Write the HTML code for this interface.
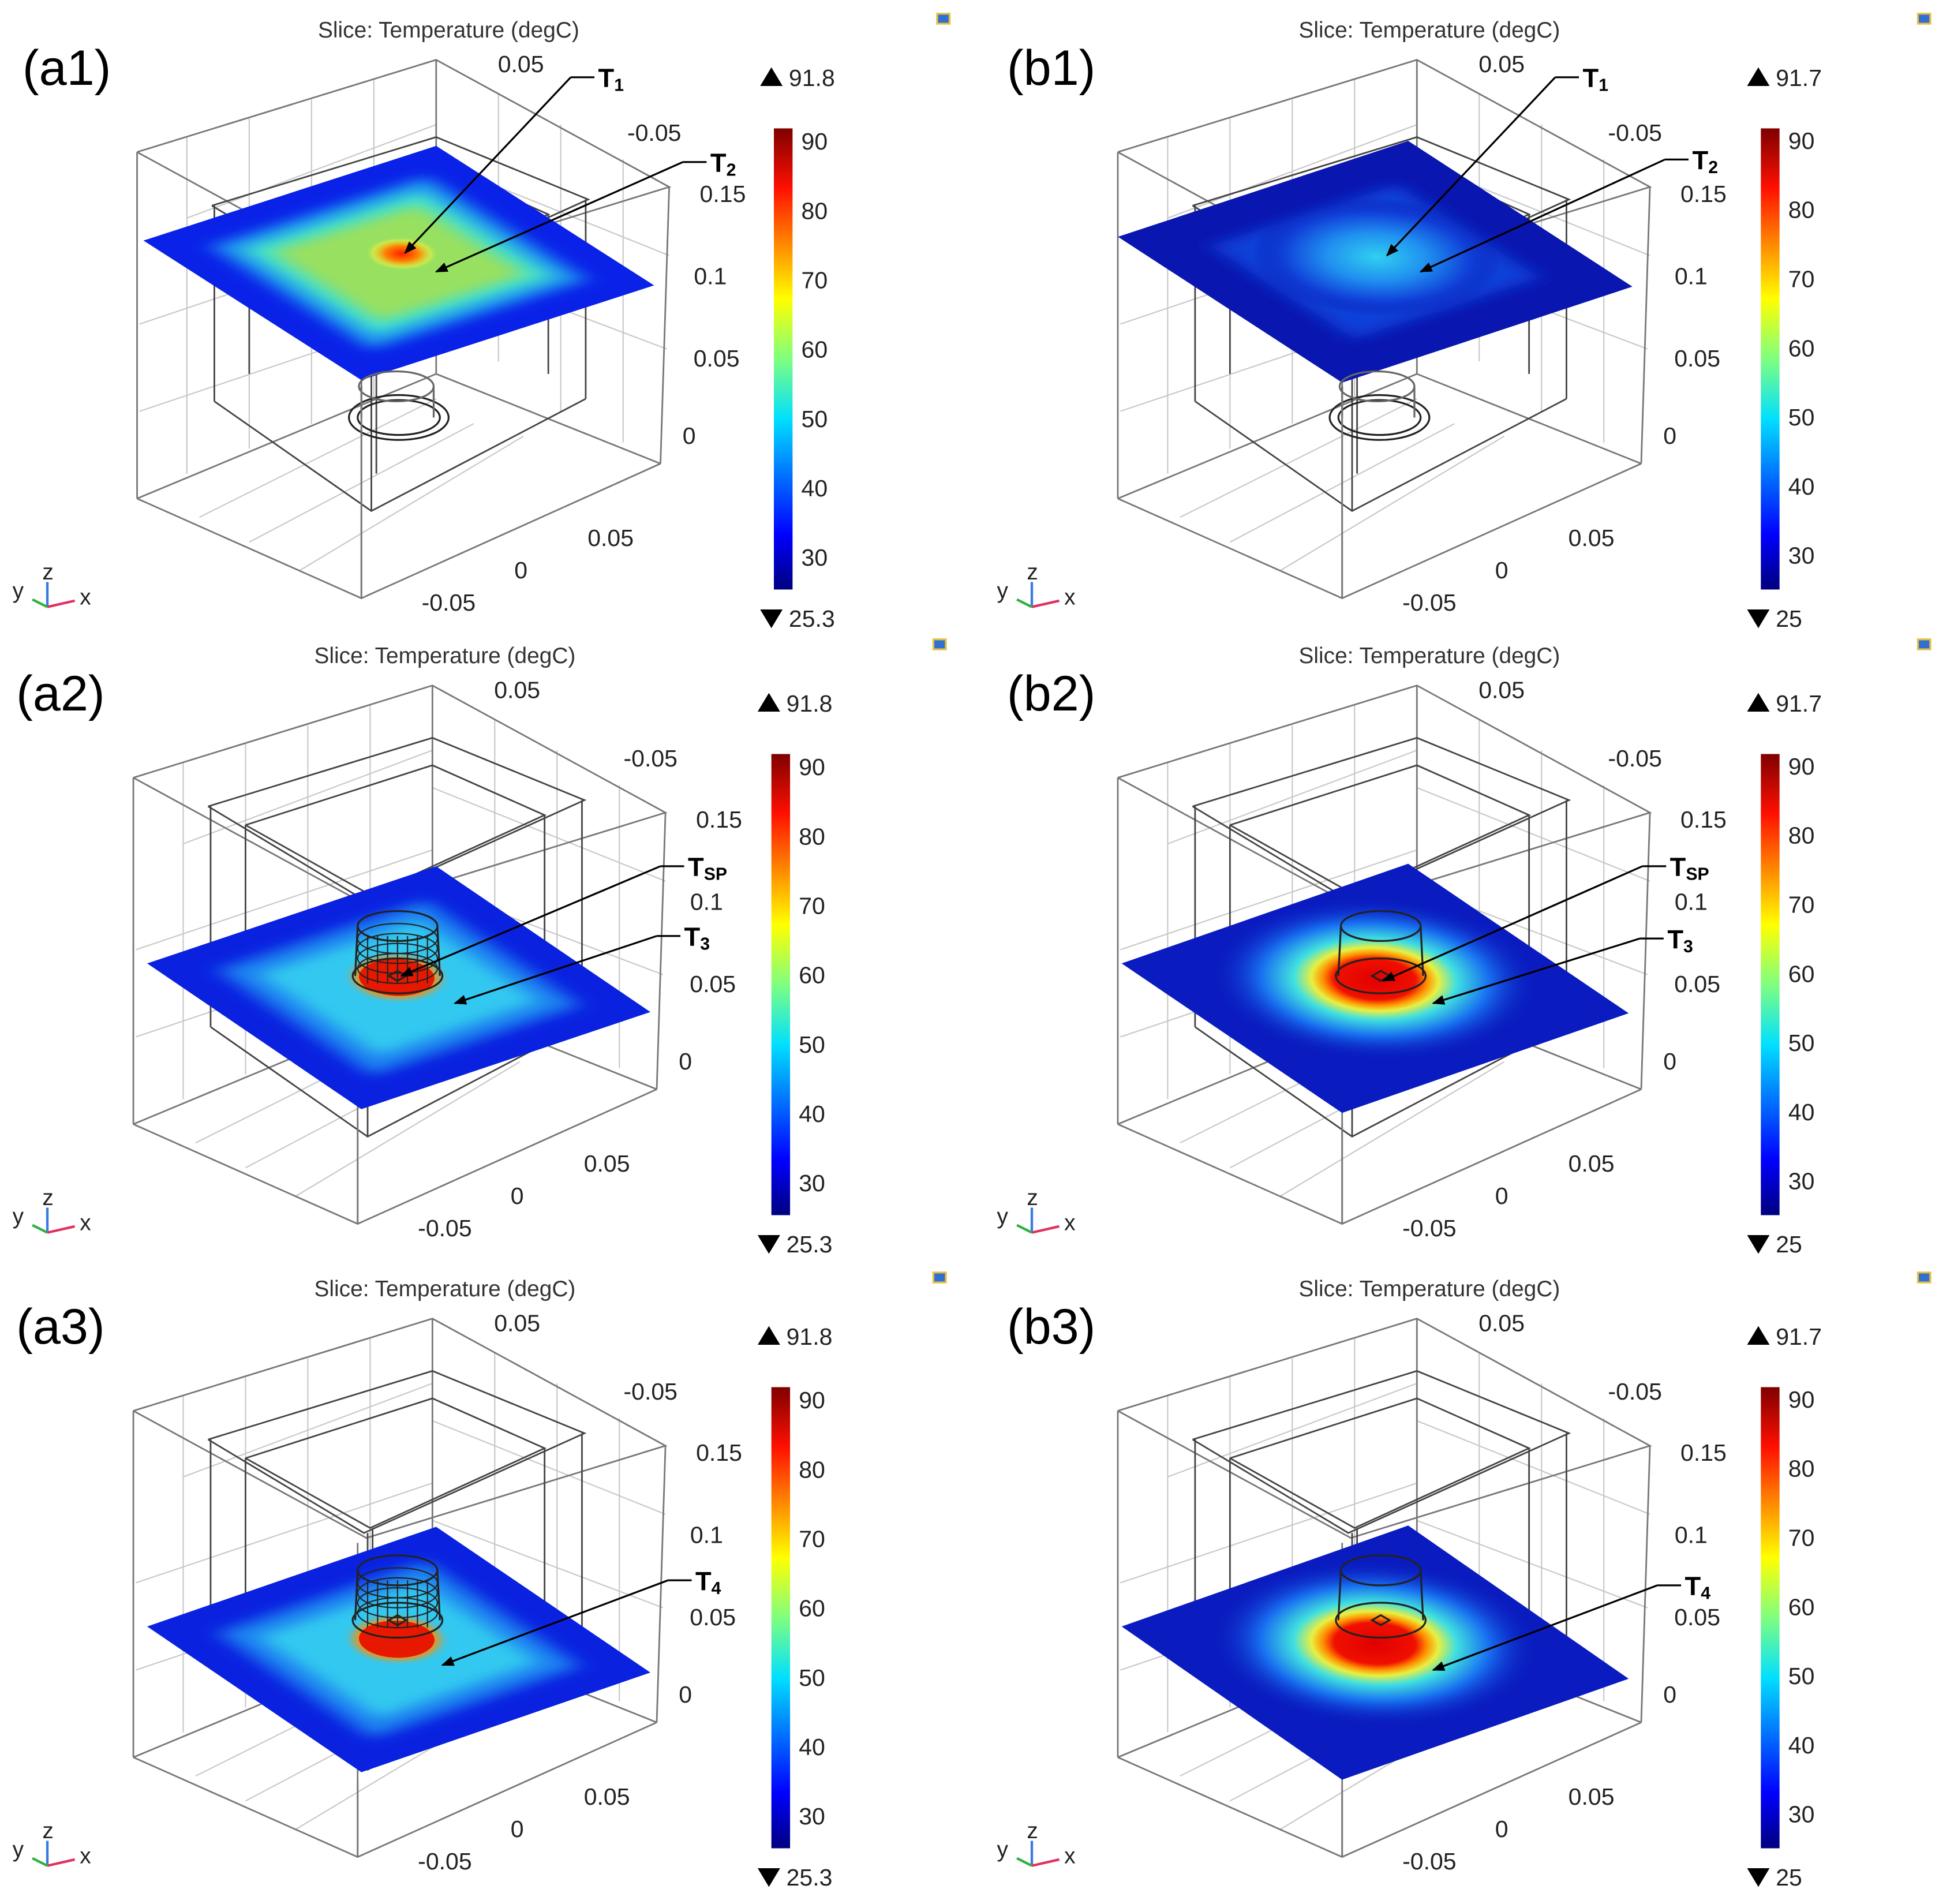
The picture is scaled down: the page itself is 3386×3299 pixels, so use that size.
<!DOCTYPE html>
<html><head><meta charset="utf-8"><style>
html,body{margin:0;padding:0;background:#fff}
svg{display:block}
text{font-family:"Liberation Sans",sans-serif}
</style></head><body>
<svg id="fig" width="3386" height="3299" viewBox="0 0 1568 1527.7" xmlns="http://www.w3.org/2000/svg">
<defs>
<linearGradient id="jet" x1="0" y1="1" x2="0" y2="0">
<stop offset="0" stop-color="#00007f"/><stop offset="0.12" stop-color="#0000ff"/>
<stop offset="0.37" stop-color="#00e0ff"/><stop offset="0.5" stop-color="#7fff7f"/>
<stop offset="0.63" stop-color="#ffff00"/><stop offset="0.87" stop-color="#ff1000"/>
<stop offset="1" stop-color="#7f0000"/></linearGradient>
<filter id="blur4" x="-50%" y="-50%" width="200%" height="200%"><feGaussianBlur stdDeviation="3"/></filter>
<filter id="blur2" x="-50%" y="-50%" width="200%" height="200%"><feGaussianBlur stdDeviation="1.5"/></filter>
<radialGradient id="hotA1"><stop offset="0" stop-color="#ff2000"/><stop offset="0.45" stop-color="#ff8000"/><stop offset="0.8" stop-color="#e8f040" stop-opacity="0.6"/><stop offset="1" stop-color="#a0e060" stop-opacity="0"/></radialGradient>
<radialGradient id="coolB1"><stop offset="0" stop-color="#30d0f0"/><stop offset="0.4" stop-color="#2090f0"/><stop offset="0.75" stop-color="#1040d8"/><stop offset="1" stop-color="#0a18b0" stop-opacity="0"/></radialGradient>
<radialGradient id="hotB"><stop offset="0" stop-color="#e00000"/><stop offset="0.25" stop-color="#f01000"/><stop offset="0.32" stop-color="#ff9000"/><stop offset="0.39" stop-color="#e8f040"/><stop offset="0.5" stop-color="#40e0e0"/><stop offset="0.7" stop-color="#1870f0"/><stop offset="1" stop-color="#0a1cc0" stop-opacity="0"/></radialGradient>
<marker id="arr" markerWidth="10" markerHeight="8" refX="9" refY="4" orient="auto" markerUnits="userSpaceOnUse"><path d="M0,0 L10,4 L0,8 z" fill="#000"/></marker>
</defs>
<g id="root"></g>
</svg>
<script>
const cbTicks=[30,40,50,60,70,80,90];
const cbMinA=25.3, cbMaxA=91.8, cbMinB=25, cbMaxB=91.7;
const axisTickLabels=["0.05","-0.05","0.15","0.1","0.05","0","0.05","0","-0.05"];
const NS="http://www.w3.org/2000/svg";
const root=document.getElementById('root');
function el(t,a,p){const e=document.createElementNS(NS,t);for(const k in a)e.setAttribute(k,a[k]);(p||root).appendChild(e);return e;}
function txt(s,x,y,sz,p,extra){const e=el('text',Object.assign({x:x,y:y,'font-size':sz,fill:'#222'},extra||{}),p);e.textContent=s;return e;}
const panels=[
 {id:'a1',dx:0,dy:0,kind:'a1',L:[115,193],B:[350,117],F:[290,305],cbx:621,mn:cbMinA,mx:cbMaxA,ann:[['T','1',480,70,325,203],['T','2',570,138,350,218]]},
 {id:'b1',dx:787,dy:0,kind:'b1',L:[897,190],B:[1130,113],F:[1077,307],cbx:1413,mn:cbMinB,mx:cbMaxB,ann:[['T','1',1270,70,1113,205],['T','2',1358,136,1140,218]]},
 {id:'a2',dx:-3,dy:502,kind:'a2',L:[118,773],B:[350,695],F:[290,890],cbx:619,mn:cbMinA,mx:cbMaxA,ann:[['T','SP',552,703,322,783],['T','3',549,759,365,805]]},
 {id:'b2',dx:787,dy:502,kind:'b2',L:[900,773],B:[1130,693],F:[1077,893],cbx:1413,mn:cbMinB,mx:cbMaxB,ann:[['T','SP',1340,703,1110,787],['T','3',1338,761,1150,805]]},
 {id:'a3',dx:-3,dy:1010,kind:'a3',L:[118,1305],B:[350,1225],F:[290,1422],cbx:619,mn:cbMinA,mx:cbMaxA,ann:[['T','4',558,1276,355,1336]]},
 {id:'b3',dx:787,dy:1010,kind:'b3',L:[900,1305],B:[1130,1224],F:[1077,1428],cbx:1413,mn:cbMinB,mx:cbMaxB,ann:[['T','4',1352,1280,1150,1340]]}
];
const tickPos=[[418,58],[525,113],[580,162],[570,228],[575,294],[553,356],[490,438],[418,464],[360,490]];
panels.forEach(p=>{
 const g=el('g',{});
 
 
 const dx=p.dx,dy=p.dy;
 const P=(x,y)=>(x+dx)+','+(y+dy);
 const gr=el('g',{stroke:'#c8c8c8','stroke-width':1,fill:'none'},g);
 [[150,110,150,380],[200,95,200,360],[250,80,250,340],[300,63,300,320],[400,75,400,290],[450,100,450,330],[500,128,500,355],[150,175,350,100],[112,260,350,180],[112,330,350,250],[350,130,537,205],[350,210,535,280],[160,415,350,320],[200,435,380,340],[240,458,420,350]].forEach(l=>{el('line',{x1:l[0]+dx,y1:l[1]+dy,x2:l[2]+dx,y2:l[3]+dy},gr);});
 const cb=el('g',{stroke:'#777','stroke-width':1.3,fill:'none'},g);
  
 el('polyline',{points:[P(110,122),P(350,48),P(537,150),P(297,224),P(110,122)].join(' ')},cb);
 el('polyline',{points:[P(110,400),P(290,480),P(530,372)].join(' ')},cb);
 el('polyline',{points:[P(110,400),P(350,300),P(530,372)].join(' ')},cb);
 el('line',{x1:110+dx,y1:122+dy,x2:110+dx,y2:400+dy},cb);
 el('line',{x1:537+dx,y1:150+dy,x2:530+dx,y2:372+dy},cb);
 el('line',{x1:350+dx,y1:48+dy,x2:350+dx,y2:300+dy},cb);
 el('line',{x1:290+dx,y1:228+dy,x2:290+dx,y2:480+dy},cb);
 const ib=el('g',{stroke:'#444','stroke-width':1.3,fill:'none'},g);
  
 const topY=p.kind[1]==='1'?0:-20;
 el('polyline',{points:[P(170,165+topY),P(350,110+topY),P(472,160+topY),P(295,240+topY),P(170,165+topY)].join(' ')},ib);
 el('polyline',{points:[P(200,180+topY),P(350,132+topY),P(440,172+topY),P(300,236+topY),P(200,180+topY)].join(' ')},ib);
 el('polyline',{points:[P(172,322),P(298,410),P(470,320)].join(' ')},ib);
 [[172,165,172,322],[470,160,470,320],[298,240,298,410],[200,180,200,300],[440,172,440,300],[302,236,302,380]].forEach(l=>{el('line',{x1:l[0]+dx,y1:(l[1]+topY)+dy,x2:l[2]+dx,y2:l[3]+dy},ib);});
 const L=p.L,B=p.B,F=p.F;
 const m=[(B[0]-L[0])/100,(B[1]-L[1])/100,(F[0]-L[0])/100,(F[1]-L[1])/100,L[0],L[1]];
 const cp='cp'+p.id;
 const clip=el('clipPath',{id:cp},g); el('rect',{x:0,y:0,width:100,height:100},clip);
 const sg=el('g',{transform:'matrix('+m.join(',')+')'},g);
 
 
 const sl=el('g',{'clip-path':'url(#'+cp+')'},sg);
 if(p.kind==='a1'){
  el('rect',{x:0,y:0,width:100,height:100,fill:'#0a22e8'},sl);
  el('rect',{x:13,y:13,width:74,height:74,fill:'#1c90f0',filter:'url(#blur4)'},sl);
  el('rect',{x:19,y:19,width:62,height:62,fill:'#40e0d0',filter:'url(#blur4)'},sl);
  el('rect',{x:25,y:25,width:50,height:50,fill:'#98e060',filter:'url(#blur4)'},sl);
  el('circle',{cx:54,cy:46,r:10,fill:'url(#hotA1)'},sl);
 } else if(p.kind==='b1'){
  el('rect',{x:0,y:0,width:100,height:100,fill:'#0a16b0'},sl);
  el('rect',{x:18,y:18,width:64,height:64,fill:'#1040d8',filter:'url(#blur4)'},sl);
  el('ellipse',{cx:52,cy:48,rx:34,ry:34,fill:'url(#coolB1)'},sl);
 } else if(p.kind==='a2'||p.kind==='a3'){
  el('rect',{x:0,y:0,width:100,height:100,fill:'#0a22e0'},sl);
  el('rect',{x:14,y:14,width:72,height:72,fill:'#1a80f0',filter:'url(#blur4)'},sl);
  el('rect',{x:22,y:22,width:56,height:56,fill:'#30c8f0',filter:'url(#blur4)'},sl);
  el('circle',{cx:53,cy:45,r:12,fill:'#ff9000',filter:'url(#blur2)'},sl);
  el('circle',{cx:53,cy:45,r:10.5,fill:'#e81800'},sl);
 } else {
  el('rect',{x:0,y:0,width:100,height:100,fill:'#0a1cc0'},sl);
  el('circle',{cx:53,cy:46,r:45,fill:'url(#hotB)'},sl);
 }
 const cy=el('g',{stroke:'#222','stroke-width':1.5,fill:'none'},g);
  
 if(p.kind[1]==='1'){
  el('ellipse',{cx:320+dx,cy:335+dy,rx:40,ry:18},cy);
  el('ellipse',{cx:320+dx,cy:335+dy,rx:33,ry:14},cy);
  el('ellipse',{cx:318+dx,cy:310+dy,rx:30,ry:12,stroke:'#666'},cy);
  el('line',{x1:290+dx,y1:310+dy,x2:290+dx,y2:335+dy,stroke:'#666'},cy);
  el('line',{x1:348+dx,y1:310+dy,x2:348+dx,y2:335+dy,stroke:'#666'},cy);
 } else {
  const cx0=p.id[0]==='a'?319:1108, yy=p.id[1]==='2'?783:1300;
  el('ellipse',{cx:cx0,cy:yy-40,rx:32,ry:12},cy);
  el('ellipse',{cx:cx0,cy:yy,rx:36,ry:14},cy);
  el('line',{x1:cx0-32,y1:yy-40,x2:cx0-34,y2:yy},cy);
  el('line',{x1:cx0+32,y1:yy-40,x2:cx0+34,y2:yy},cy);
  if(p.id[0]==='a'){for(let k=-24;k<=24;k+=8)el('line',{x1:cx0+k,y1:yy-32,x2:cx0+k,y2:yy+6,'stroke-width':1},cy);
   for(let k=0;k<4;k++)el('ellipse',{cx:cx0,cy:yy-30+k*8,rx:32,ry:12,'stroke-width':1},cy);}
  el('path',{d:'M'+(cx0-7)+','+yy+' l7,-4 l7,4 l-7,4 z'},cy);
 }
 el('line',{x1:290+dx,y1:p.F[1]+8,x2:290+dx,y2:480+dy,stroke:'#777','stroke-width':1.3},g);
 axisTickLabels.forEach((s,i)=>{const t=txt(s,tickPos[i][0]+dx,tickPos[i][1]+dy,19,g,{'text-anchor':'middle'});
   });
 const ti=txt('Slice: Temperature (degC)',360+dx,30+dy,18,g,{'text-anchor':'middle',fill:'#333'});
  
 const lb=txt('('+p.id+')',p.id[0]==='b'?808:(p.id==='a1'?18:13),68+dy,40,g,{fill:'#000'});
  
 const cbg=el('g',{},g);
  
 const top=103+dy, bot=473+dy, X=p.cbx;
 const yOf=v=>bot-(v-p.mn)/(p.mx-p.mn)*(bot-top);
 el('rect',{x:X,y:top,width:15,height:bot-top,fill:'url(#jet)'},cbg);
 cbTicks.forEach(v=>{const t=txt(String(v),X+22,yOf(v)+7,19,cbg);
   });
 el('path',{d:'M'+(X-11)+','+(69+dy)+' l9,-15 l9,15 z',fill:'#000'},cbg);
 el('path',{d:'M'+(X-11)+','+(489+dy)+' l9,15 l9,-15 z',fill:'#000'},cbg);
 const mx=txt(String(p.mx),X+12,69+dy,19,cbg);  
 const mn=txt(String(p.mn),X+12,503+dy,19,cbg);  
 const tr=el('g',{},g);  
 const ox=(p.id[0]==='b'?828:38), oy=487+dy;
 el('line',{x1:ox,y1:oy,x2:ox,y2:oy-20,stroke:'#3a7be0','stroke-width':2},tr);
 el('line',{x1:ox,y1:oy,x2:ox+22,y2:oy-5,stroke:'#e03060','stroke-width':2},tr);
 el('line',{x1:ox,y1:oy,x2:ox-12,y2:oy-6,stroke:'#30b040','stroke-width':2},tr);
 txt('y',ox-28,oy-7,18,tr); txt('z',ox-4,oy-22,18,tr); txt('x',ox+26,oy-2,18,tr);
 const ic=el('rect',{x:752+dx,y:11+dy,width:10,height:8,fill:'#3070d0',stroke:'#e8c040','stroke-width':1.5},g);
  
 p.ann.forEach(a=>{const ag=el('g',{},g);
   
  el('line',{x1:a[2]-3,y1:a[3]-8,x2:a[2]-22,y2:a[3]-8,stroke:'#000','stroke-width':1.5},ag);
  el('line',{x1:a[2]-22,y1:a[3]-8,x2:a[4],y2:a[5],stroke:'#000','stroke-width':1.5,'marker-end':'url(#arr)'},ag);
  const t=txt(a[0],a[2],a[3],21,ag,{fill:'#000','font-weight':'bold'});
  const s=el('tspan',{'font-size':14,dy:3},t); s.textContent=a[1];});
});
</script>
</body></html>
